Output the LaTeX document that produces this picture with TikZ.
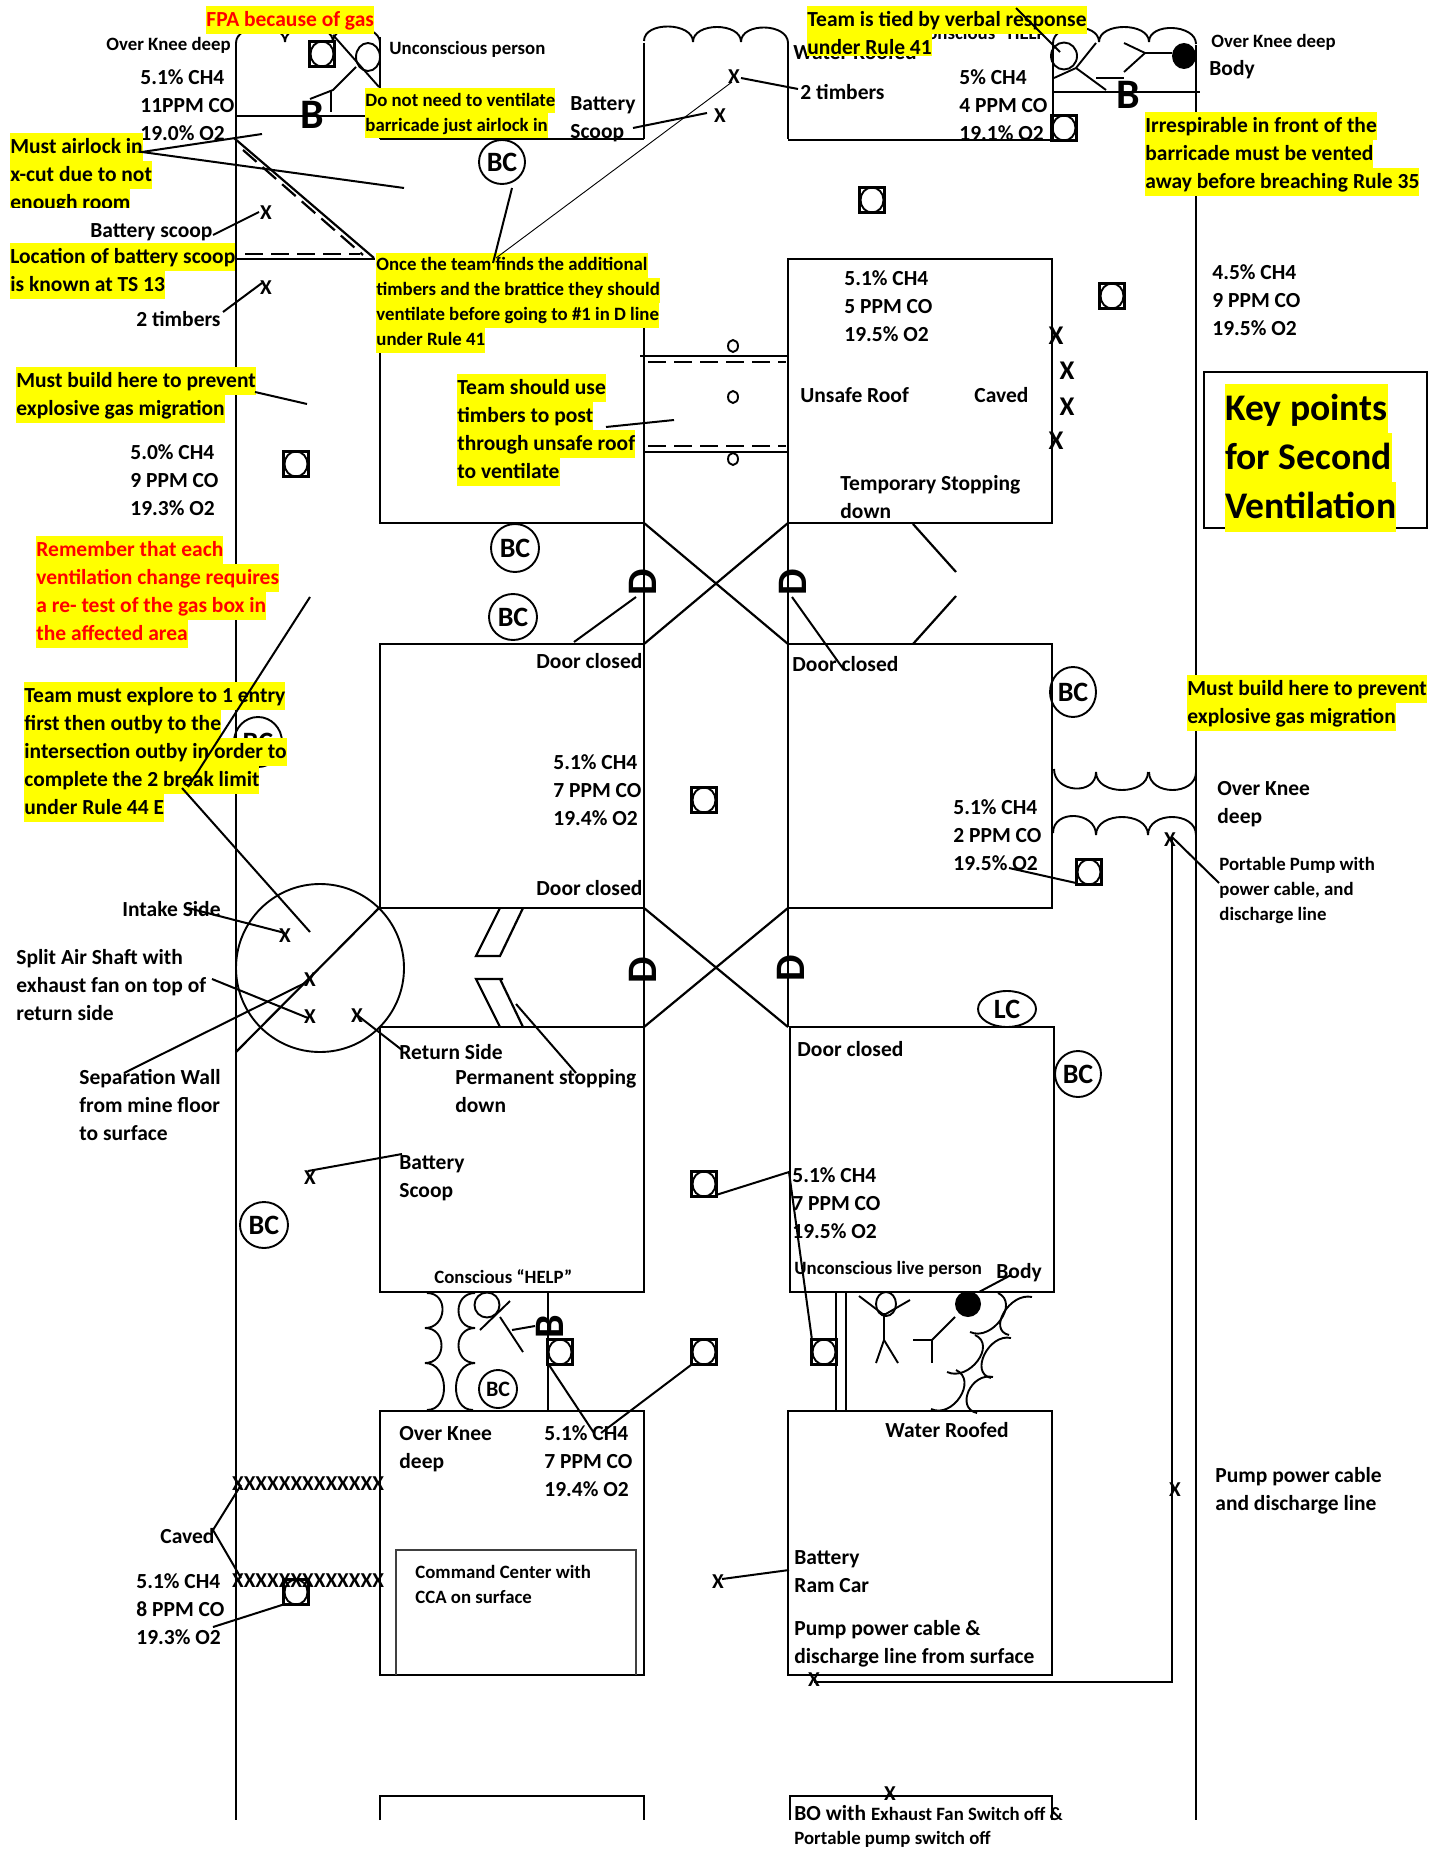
\documentclass[tikz,border=0pt]{standalone}
\usepackage{fontspec}
\setmainfont{Carlito}
\usetikzlibrary{shapes.geometric}
\definecolor{hly}{RGB}{255,255,0}
\lineskiplimit=-20pt\relax
\newcommand\Ln[1]{\mbox{\rule[-.37em]{0pt}{1.32em}#1}}
\newcommand\Hl[1]{{\fboxsep=0pt\colorbox{hly}{\Ln{#1}}}}
\newcommand\Hr[1]{\Hl{\color{red}#1}}
\newcommand\Tb[4]{\node[bt] (#1) at (#2,{#3-13.5}) {#4};}
\newcommand\Ts[4]{\node[st] (#1) at (#2,{#3-12}) {#4};}
\newcommand\Sq[3]{\node[sqbox] (#1) at (#2,#3) {}; \draw[med] (#2,#3) ellipse [x radius=11.5,y radius=12.5];}
\newcommand\Bp[6]{\draw[med] (#1,#2) .. controls ({#1+#5},{#2+#6}) and ({#3+#5},{#4+#6}) .. (#3,#4);}
\newcommand\Gas[3]{\Ln{#1}\\\Ln{#2}\\\Ln{#3}}
\tikzset{
  x=0.5pt,y=-0.5pt,
  wall/.style={line width=1.1pt,black},
  thk/.style={line width=1.4pt,black},
  med/.style={line width=0.95pt,black},
  thn/.style={line width=0.45pt,black},
  lead/.style={line width=1pt,black},
  dsh/.style={line width=1.1pt,black,dash pattern=on 9pt off 4pt},
  bt/.style={anchor=north west,inner sep=0pt,align=left,font=\bfseries\fontsize{10.75}{14}\selectfont},
  st/.style={anchor=north west,inner sep=0pt,align=left,font=\bfseries\fontsize{9.4}{12.5}\selectfont},
  lt/.style={anchor=north west,inner sep=0pt,align=left,font=\bfseries\fontsize{18.8}{24.5}\selectfont},
  xm/.style={inner sep=0pt,yshift=-0.5pt,font=\bfseries\fontsize{10.6}{12}\selectfont},
  xb/.style={inner sep=0pt,font=\bfseries\fontsize{13.5}{14}\selectfont},
  bigl/.style={inner sep=0pt,font=\bfseries\fontsize{21}{22}\selectfont},
  bcn/.style={ellipse,draw=black,line width=0.95pt,inner sep=0pt,fill=none,font=\bfseries\fontsize{14}{15}\selectfont},
  sqbox/.style={rectangle,draw=black,line width=1.1pt,minimum width=12.5pt,minimum height=12.5pt,inner sep=0pt},
}
\begin{document}
\begin{tikzpicture}
\useasboundingbox (0,0) rectangle (1439,1850);
\fill[white] (0,0) rectangle (1439,1850);
% walls
\draw[wall] (236,43) -- (236,1820);
\draw[wall] (1196,45) -- (1196,1820);
% top blocks
\draw[thk] (236,116) -- (380,116);
\draw[wall] (380,37) -- (380,139);
\draw[thk] (380,139) -- (644,139);
\draw[wall] (644,43) -- (644,139);
\draw[wall] (788,43) -- (788,139);
\draw[thk] (788,140) -- (1053,140);
\draw[wall] (1053,43) -- (1053,140);
\draw[thk] (1053,92) -- (1200,92);
% top bumps
\Bp{236}{43}{285}{42}{0}{-20}
\Bp{285}{42}{333}{42}{0}{-20}
\Bp{333}{42}{380}{43}{0}{-20}
\Bp{644}{41}{693}{42}{0}{-20}
\Bp{693}{42}{741}{42}{0}{-20}
\Bp{741}{42}{788}{43}{0}{-20}
\Bp{1053}{43}{1099}{42}{0}{-20}
\Bp{1099}{42}{1149}{42}{0}{-20}
\Bp{1149}{42}{1196}{44}{0}{-20}
% hidden labels
\Tb{wr}{793}{52}{\Ln{Water Roofed}}
\Ts{chh}{917}{33}{\Ln{Conscious “HELP”}}
\node[bcn,minimum width=24pt,minimum height=25pt] (bch) at (258,742) {BC};
% diagonal barricade
\draw[wall] (234,138) -- (374,258);
\draw[dsh] (243,150) -- (363,255);
\draw[wall] (236,259) -- (375,259);
\draw[dsh] (245,254) -- (360,254);
% blocks left column
\draw[thk] (380,259) -- (644,259) -- (644,523) -- (380,523) -- cycle;
\draw[thk] (380,644) rectangle (644,908);
\draw[thk] (380,1027) rectangle (644,1292);
\draw[thk] (380,1411) rectangle (644,1675);
\draw[thk] (380,1820) -- (380,1796) -- (644,1796) -- (644,1820);
% blocks right column
\draw[thk] (788,259) rectangle (1052,523);
\draw[thk] (788,644) rectangle (1052,908);
\draw[thk] (790,1027) rectangle (1054,1292);
\draw[thk] (788,1411) rectangle (1052,1675);
\draw[thk] (790,1820) -- (790,1796) -- (1052,1796) -- (1052,1820);
% connecting entries
\draw[wall] (644,523) -- (644,644);
\draw[wall] (788,523) -- (788,644);
\draw[wall] (644,908) -- (644,1027);
\draw[wall] (788,908) -- (788,1027);
\draw[wall] (644,523) -- (788,644);
\draw[wall] (788,523) -- (644,644);
\draw[wall] (644,908) -- (788,1027);
\draw[wall] (788,908) -- (644,1027);
% unsafe roof double lines
\draw[thk] (640,356) -- (788,356);
\draw[dsh] (648,362) -- (786,362);
\draw[dsh] (648,446) -- (786,446);
\draw[thk] (644,452) -- (788,452);
\draw[med] (733,346) ellipse [x radius=5,y radius=6];
\draw[med] (733,397) ellipse [x radius=5,y radius=6];
\draw[med] (733,459) ellipse [x radius=5,y radius=6];
% caved hexagon
\draw[wall] (913,524) -- (956,572);
\draw[wall] (956,596) -- (913,644);
% shaft
\draw[med] (320,968) circle [radius=84];
\draw[wall] (380,907) -- (236,1052);
% permanent stopping
\draw[wall] (500,908) -- (476,956) -- (500,956) -- (523,908);
\draw[wall] (503,979) -- (476,979) -- (500,1027);
\draw[wall] (500,979) -- (523,1027);
% lower entries
\draw[wall] (548,1292) -- (548,1411);
\draw[wall] (836,1292) -- (836,1411);
\draw[wall] (846,1292) -- (846,1411);
\Bp{427}{1293}{425}{1328}{22}{0}
\Bp{425}{1328}{425}{1363}{22}{0}
\Bp{425}{1363}{427}{1410}{24}{0}
\Bp{475}{1293}{475}{1328}{-22}{0}
\Bp{475}{1328}{475}{1363}{-22}{0}
\Bp{475}{1363}{473}{1410}{-24}{0}
\Bp{998}{1293}{970}{1332}{22}{10}
\Bp{975}{1335}{947}{1372}{22}{10}
\Bp{956}{1370}{931}{1409}{22}{10}
\Bp{1032}{1297}{1009}{1335}{-22}{-5}
\Bp{1011}{1338}{991}{1378}{-22}{-5}
\Bp{993}{1377}{977}{1413}{-22}{-5}
% right water bumps
\Bp{1054}{769}{1096}{772}{0}{24}
\Bp{1096}{772}{1148}{772}{0}{24}
\Bp{1149}{772}{1196}{772}{0}{24}
\Bp{1053}{833}{1096}{835}{0}{-24}
\Bp{1096}{835}{1148}{835}{0}{-24}
\Bp{1148}{835}{1196}{835}{0}{-24}
% pump line
\draw[thk] (1172,837) -- (1172,1682) -- (814,1682);
% inner command box
\draw[line width=0.7pt,black!75] (396,1675) -- (396,1550) -- (636,1550) -- (636,1675);
% figures: top left
\draw[med] (368,57) ellipse [x radius=12,y radius=14];
\draw[med] (333,35) -- (379,87);
\draw[med] (356,67) -- (333,90) -- (310,99);
\draw[med] (331,90) -- (331,112);
% top right
\draw[med] (1064,56) ellipse [x radius=13,y radius=13.5];
\draw[med] (1096,43) -- (1076,68) -- (1054,78);
\draw[med] (1076,68) -- (1106,90);
\draw[med] (1096,78) -- (1124,78);
\node[ellipse,fill=black,minimum width=12pt,minimum height=13pt,inner sep=0pt] (bdt) at (1184,56) {};
\draw[med] (1172,53) -- (1145,53) -- (1124,43);
\draw[med] (1145,53) -- (1124,72);
% lower left figure
\draw[med] (487,1305) ellipse [x radius=12.5,y radius=12.5];
\draw[med] (480,1330) -- (510,1301);
\draw[med] (500,1317) -- (523,1352);
% lower right figures
\draw[med] (886,1304) ellipse [x radius=10,y radius=12];
\draw[med] (859,1296) -- (884,1315) -- (910,1300);
\draw[med] (884,1313) -- (884,1340) -- (876,1363);
\draw[med] (884,1340) -- (898,1363);
\node[ellipse,fill=black,minimum width=13pt,minimum height=13pt,inner sep=0pt] (bdl) at (968,1304) {};
\draw[med] (955,1317) -- (932,1340) -- (913,1340);
\draw[med] (932,1340) -- (932,1363);
% markers
\Sq{s1}{322}{54}\Sq{s2}{1064}{128}\Sq{s3}{872}{200}\Sq{s4}{1112}{296}
\Sq{s5}{296}{464}\Sq{s6}{704}{800}\Sq{s7}{1089}{872}\Sq{s8}{704}{1184}
\Sq{s9}{560}{1352}\Sq{s10}{704}{1352}\Sq{s11}{824}{1352}\Sq{s12}{296}{1592}
% bc
\node[bcn,minimum width=23pt,minimum height=22pt] (bc1) at (502,162) {BC};
\node[bcn,minimum width=24pt,minimum height=24pt] (bc2) at (515,548) {BC};
\node[bcn,minimum width=24pt,minimum height=23pt] (bc3) at (513,617) {BC};
\node[bcn,minimum width=23pt,minimum height=25pt] (bc4) at (1073,692) {BC};
\node[bcn,minimum width=23pt,minimum height=23pt] (bc5) at (1078,1074) {BC};
\node[bcn,minimum width=24pt,minimum height=23pt] (bc6) at (264,1225) {BC};
\node[bcn,minimum width=29pt,minimum height=18pt] (lc1) at (1007,1009) {LC\hspace{9pt}};
\node[bcn,minimum width=19pt,minimum height=19pt,font=\bfseries\fontsize{11}{12}\selectfont] (bc7) at (498,1389) {\raisebox{-2pt}{BC}};
% big letters
\node[bigl] (bt1) at (312,115) {B};
\node[bigl] (bt2) at (1128,95) {B};
\node[bigl,rotate=90] (bt3) at (550,1327) {B};
\node[bigl,rotate=90] (d1) at (643,582) {D};
\node[bigl,rotate=90] (d2) at (793,582) {D};
\node[bigl,rotate=90] (d3) at (643,970) {D};
\node[bigl,rotate=90] (d4) at (791,968) {D};
% plain labels
\Ts{ok1}{106}{44}{\Ln{Over Knee deep}}
\Ts{up1}{389}{48}{\Ln{Unconscious person}}
\Tb{g1}{140}{77}{\Gas{5.1\% CH4}{11PPM CO}{19.0\% O2}}
\Tb{bs1}{570}{103}{\Ln{Battery}\\\Ln{Scoop}}
\Tb{bs2}{90}{230}{\Ln{Battery scoop}}
\Tb{tm1}{136}{319}{\Ln{2 timbers}}
\Tb{g2}{130}{452}{\Gas{5.0\% CH4}{9 PPM CO}{19.3\% O2}}
\Tb{dc1}{536}{661}{\Ln{Door closed}}
\Tb{dc2}{536}{888}{\Ln{Door closed}}
\Tb{g3}{553}{762}{\Gas{5.1\% CH4}{7 PPM CO}{19.4\% O2}}
\Tb{dc3}{792}{664}{\Ln{Door closed}}
\Tb{g4}{844}{278}{\Gas{5.1\% CH4}{5 PPM CO}{19.5\% O2}}
\Tb{ur}{800}{395}{\Ln{Unsafe Roof}}
\Tb{cv1}{974}{395}{\Ln{Caved}}
\Tb{ts}{840}{483}{\Ln{Temporary Stopping}\\\Ln{down}}
\Tb{tm2}{800}{92}{\Ln{2 timbers}}
\Tb{g5}{959}{77}{\Gas{5\% CH4}{4 PPM CO}{19.1\% O2}}
\Ts{ok2}{1211}{41}{\Ln{Over Knee deep}}
\Tb{bd1}{1209}{68}{\Ln{Body}}
\Tb{g6}{1212}{272}{\Gas{4.5\% CH4}{9 PPM CO}{19.5\% O2}}
\Tb{g7}{953}{807}{\Gas{5.1\% CH4}{2 PPM CO}{19.5\% O2}}
\Tb{ok3}{1217}{788}{\Ln{Over Knee}\\\Ln{deep}}
\Ts{pp}{1219}{864}{\Ln{Portable Pump with}\\\Ln{power cable, and}\\\Ln{discharge line}}
\Tb{is}{122}{909}{\Ln{Intake Side}}
\Tb{sa}{16}{957}{\Ln{Split Air Shaft with}\\\Ln{exhaust fan on top of}\\\Ln{return side}}
\Tb{sw}{79}{1077}{\Ln{Separation Wall}\\\Ln{from mine floor}\\\Ln{to surface}}
\Tb{rs}{399}{1052}{\Ln{Return Side}}
\Tb{ps}{455}{1077}{\Ln{Permanent stopping}\\\Ln{down}}
\Tb{bs3}{399}{1162}{\Ln{Battery}\\\Ln{Scoop}}
\Ts{ch2}{434}{1277}{\Ln{Conscious “HELP”}}
\Tb{dc4}{797}{1049}{\Ln{Door closed}}
\Tb{g8}{792}{1175}{\Gas{5.1\% CH4}{7 PPM CO}{19.5\% O2}}
\Ts{ulp}{794}{1268}{\Ln{Unconscious live person}}
\Tb{bd2}{996}{1271}{\Ln{Body}}
\Tb{ok4}{399}{1433}{\Ln{Over Knee}\\\Ln{deep}}
\Tb{g9}{544}{1433}{\Gas{5.1\% CH4}{7 PPM CO}{19.4\% O2}}
\Tb{cv2}{160}{1536}{\Ln{Caved}}
\Tb{g10}{136}{1581}{\Gas{5.1\% CH4}{8 PPM CO}{19.3\% O2}}
\Ts{cc}{415}{1572}{\Ln{Command Center with}\\\Ln{CCA on surface}}
\Tb{wr2}{885}{1430}{\Ln{Water Roofed}}
\Tb{brc}{794}{1557}{\Ln{Battery}\\\Ln{Ram Car}}
\Tb{ppc}{794}{1628}{\Ln{Pump power cable \&}\\\Ln{discharge line from surface}}
\Tb{ppd}{1215}{1475}{\Ln{Pump power cable}\\\Ln{and discharge line}}
\node[bt] (bo) at (794,1800) {\Ln{BO with {\fontsize{9.4}{12.5}\selectfont Exhaust Fan Switch off \&}}\\[-2pt]{\fontsize{9.4}{12.5}\selectfont\Ln{Portable pump switch off}}};
% highlighted notes
\Tb{fpa}{206}{19}{\Hr{FPA because of gas}}
\Ts{dn}{365}{100}{\Hl{Do not need to ventilate}\\\Hl{barricade just airlock in}}
\begin{scope}
\clip (0,130) rectangle (235,207.5);
\Tb{ma}{10}{146}{\Hl{Must airlock in}\\\Hl{x-cut due to not}\\\Hl{enough room}}
\end{scope}
\Tb{lb}{10}{256}{\Hl{Location of battery scoop}\\\Hl{is known at TS 13}}
\Ts{ot}{376}{264.5}{\Hl{Once the team finds the additional}\\\Hl{timbers and the brattice they should}\\\Hl{ventilate before going to \#1 in D line}\\\Hl{under Rule 41}}
\Tb{mb1}{16}{380}{\Hl{Must build here to prevent}\\\Hl{explosive gas migration}}
\Tb{tu}{457}{387}{\Hl{Team should use}\\\Hl{timbers to post}\\\Hl{through unsafe roof}\\\Hl{to ventilate}}
\Tb{rem}{36}{549}{\Hr{Remember that each}\\\Hr{ventilation change requires}\\\Hr{a re- test of the gas box in}\\\Hr{the affected area}}
\Tb{tme}{24}{695}{\Hl{Team must explore to 1 entry}\\\Hl{first then outby to the}\\\Hl{intersection outby in order to}\\\Hl{complete the 2 break limit}\\\Hl{under Rule 44 E}}
\begin{scope}
\clip (800,0) rectangle (1100,55.5);
\Tb{tt}{807}{19}{\Hl{Team is tied by verbal response}\\\Hl{under Rule 41}}
\end{scope}
\Tb{irr}{1145}{125}{\Hl{Irrespirable in front of the}\\\Hl{barricade must be vented}\\\Hl{away before breaching Rule 35}}
\Tb{mb2}{1187}{688}{\Hl{Must build here to prevent}\\\Hl{explosive gas migration}}
% key box
\draw[thk] (1204,372) rectangle (1427,528);
\node[lt] (key) at (1225,384) {\Hl{Key points}\\\Hl{for Second}\\\Hl{Ventilation}};
% X marks
\node[xm] (x1) at (266,212) {X};
\node[xm] (x2) at (266,287) {X};
\node[xm] (x3) at (720,115) {X};
\node[xm] (x4) at (734,76) {X};
\node[xb] (x5) at (1056,336) {X};
\node[xb] (x6) at (1067,371) {X};
\node[xb] (x7) at (1067,407) {X};
\node[xb] (x8) at (1056,441) {X};
\node[xm] (x9) at (1170,839) {X};
\node[xm] (x10) at (285,935) {X};
\node[xm] (x11) at (310,979) {X};
\node[xm] (x12) at (310,1016) {X};
\node[xm] (x13) at (357,1015) {X};
\node[xm] (x14) at (310,1177) {X};
\node[xm] (x15) at (1175,1489) {X};
\node[xm] (x16) at (814,1679) {X};
\node[xm] (x17) at (718,1581) {X};
\node[xm] (x18) at (890,1793) {X};
\node[xm] (xr1) at (308,1483) {XXXXXXXXXXXXX};
\node[xm] (xr2) at (308,1580) {XXXXXXXXXXXXX};
% leaders
\draw[lead] (262,134) -- (142,152) -- (404,188);
\draw[lead] (213,235) -- (259,212);
\draw[lead] (223,312) -- (262,283);
\draw[lead] (255,392) -- (307,404);
\draw[lead] (606,427) -- (674,420);
\draw[lead] (574,642) -- (636,597);
\draw[lead] (792,597) -- (844,670);
\draw[lead] (188,787) -- (310,597);
\draw[lead] (182,788) -- (310,932);
\draw[lead] (188,908) -- (285,933);
\draw[lead] (212,979) -- (308,1018);
\draw[lead] (124,1073) -- (305,983);
\draw[lead] (357,1015) -- (402,1050);
\draw[lead] (308,1171) -- (402,1154);
\draw[lead] (516,1004) -- (576,1073);
\draw[lead] (512,188) -- (493,263);
\draw[thn] (496,258) -- (732,82);
\draw[lead] (741,78) -- (798,89);
\draw[lead] (633,128) -- (707,113);
\draw[lead] (1016,8) -- (1060,52);
\draw[lead] (1076,883) -- (1009,868);
\draw[lead] (716,1195) -- (789,1172) -- (812,1340);
\draw[lead] (549,1365) -- (594,1433);
\draw[lead] (691,1365) -- (601,1433);
\draw[lead] (285,1604) -- (213,1627);
\draw[lead] (241,1485) -- (213,1530) -- (241,1578);
\draw[lead] (789,1570) -- (722,1579);
\draw[lead] (1011,1275) -- (979,1292);
\draw[lead] (512,1330) -- (535,1326);
\draw[lead] (1172,837) -- (1219,883);
\end{tikzpicture}
\end{document}
